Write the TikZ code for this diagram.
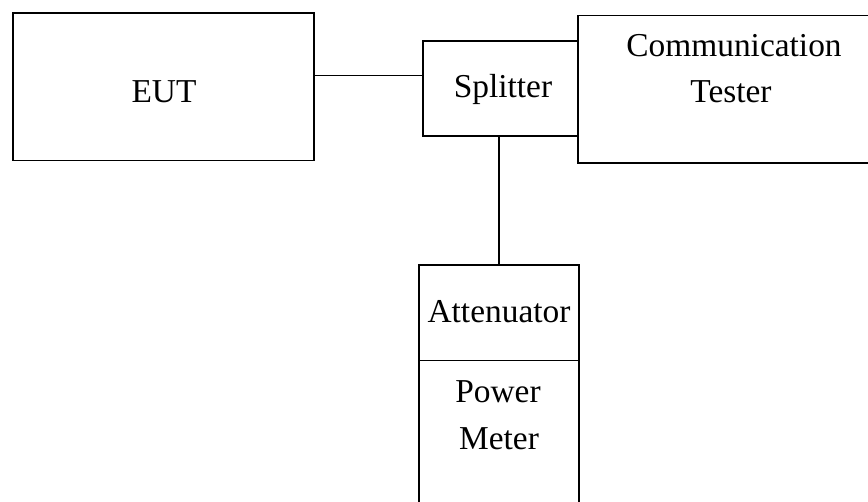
\documentclass[tikz,border=0pt]{standalone}
\usepackage{fontspec}
\setmainfont{Liberation Serif}
\begin{document}
\begin{tikzpicture}[x=0.5pt,y=-0.5pt,
  box/.style={draw=black,line width=0.75pt,rectangle,inner sep=0pt},
  lbl/.style={anchor=base,inner sep=0pt,font=\fontsize{16.7pt}{23pt}\selectfont},
  wire/.style={draw=black,line width=0.75pt}]
\useasboundingbox (0,0) rectangle (868,502);
\clip (0,0) rectangle (868,502);
\fill[white] (0,0) rectangle (868,502);
\node[box,minimum width=150.5pt,minimum height=73.75pt] (eut) at (163.5,86.75) {};
\node[box,minimum width=77.5pt,minimum height=47.5pt] (split) at (500.5,88.5) {};
\node[box,minimum width=155pt,minimum height=73.85pt] (comm) at (733,89.2) {};
\node[box,minimum width=80pt,minimum height=47.85pt] (att) at (499,312.85) {};
\node[box,minimum width=80pt,minimum height=79.65pt] (pm) at (499,440.35) {};
\node[lbl] (teut) at (164,102.7) {EUT};
\node[lbl] (tsplit) at (503,98) {Splitter};
\node[lbl] (tcomm1) at (734,57) {Communication};
\node[lbl] (tcomm2) at (731,103) {Tester};
\node[lbl] (tatt) at (499,322.7) {Attenuator};
\node[lbl] (tpm1) at (498,402.7) {Power};
\node[lbl] (tpm2) at (499,450) {Meter};
\coordinate (lvl) at (0,75.3);
\draw[wire] (eut.east |- lvl) -- (split.west |- lvl);
\draw[wire] (split.south -| att.north) -- (att.north);
\end{tikzpicture}
\end{document}
